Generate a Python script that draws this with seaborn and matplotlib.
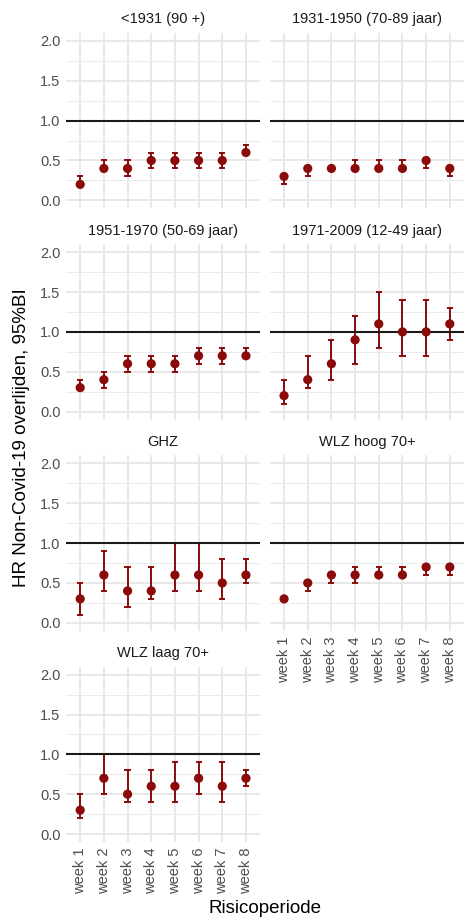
import numpy as np
import pandas as pd
import seaborn as sns
import matplotlib
matplotlib.use("Agg")
import matplotlib.pyplot as plt
from matplotlib.ticker import MultipleLocator

# ---- data ----
weeks = ["week 1", "week 2", "week 3", "week 4", "week 5", "week 6", "week 7", "week 8"]
panels = ["<1931 (90 +)", "1931-1950 (70-89 jaar)", "1951-1970 (50-69 jaar)",
          "1971-2009 (12-49 jaar)", "GHZ", "WLZ hoog 70+", "WLZ laag 70+"]

hr_lt1931 = [0.2, 0.4, 0.4, 0.5, 0.5, 0.5, 0.5, 0.6]
lo_lt1931 = [0.2, 0.4, 0.3, 0.4, 0.4, 0.4, 0.4, 0.6]
hi_lt1931 = [0.3, 0.5, 0.5, 0.6, 0.6, 0.6, 0.6, 0.7]

hr_1931 = [0.3, 0.4, 0.4, 0.4, 0.4, 0.4, 0.5, 0.4]
lo_1931 = [0.2, 0.3, 0.4, 0.4, 0.4, 0.4, 0.4, 0.3]
hi_1931 = [0.3, 0.43, 0.4, 0.5, 0.5, 0.5, 0.5, 0.4]

hr_1951 = [0.3, 0.4, 0.6, 0.6, 0.6, 0.7, 0.7, 0.7]
lo_1951 = [0.3, 0.3, 0.5, 0.5, 0.5, 0.6, 0.6, 0.7]
hi_1951 = [0.4, 0.5, 0.7, 0.7, 0.7, 0.8, 0.8, 0.8]

hr_1971 = [0.2, 0.4, 0.6, 0.9, 1.1, 1.0, 1.0, 1.1]
lo_1971 = [0.1, 0.3, 0.4, 0.6, 0.8, 0.7, 0.7, 0.9]
hi_1971 = [0.4, 0.7, 0.9, 1.2, 1.5, 1.4, 1.4, 1.3]

hr_ghz = [0.3, 0.6, 0.4, 0.4, 0.6, 0.6, 0.5, 0.6]
lo_ghz = [0.1, 0.4, 0.2, 0.3, 0.4, 0.4, 0.3, 0.5]
hi_ghz = [0.5, 0.9, 0.7, 0.7, 1.0, 1.0, 0.8, 0.8]

hr_wlzh = [0.3, 0.5, 0.6, 0.6, 0.6, 0.6, 0.7, 0.7]
lo_wlzh = [0.3, 0.4, 0.5, 0.5, 0.6, 0.6, 0.6, 0.6]
hi_wlzh = [0.3, 0.5, 0.6, 0.7, 0.7, 0.7, 0.7, 0.7]

hr_wlzl = [0.3, 0.7, 0.5, 0.6, 0.6, 0.7, 0.6, 0.7]
lo_wlzl = [0.2, 0.5, 0.4, 0.4, 0.4, 0.5, 0.4, 0.6]
hi_wlzl = [0.5, 1.0, 0.8, 0.8, 0.9, 0.9, 0.9, 0.8]

series = [(hr_lt1931, lo_lt1931, hi_lt1931), (hr_1931, lo_1931, hi_1931),
          (hr_1951, lo_1951, hi_1951), (hr_1971, lo_1971, hi_1971),
          (hr_ghz, lo_ghz, hi_ghz), (hr_wlzh, lo_wlzh, hi_wlzh),
          (hr_wlzl, lo_wlzl, hi_wlzl)]

rows = []
for p, (hr, lo, hi) in zip(panels, series):
    for i, w in enumerate(weeks):
        rows.append({"panel": p, "week": w, "pos": i, "hr": hr[i], "lo": lo[i], "hi": hi[i]})
df = pd.DataFrame(rows)

# ---- style ----
sns.set_theme(style="whitegrid")
plt.rcParams["font.family"] = ["Liberation Sans", "DejaVu Sans"]

RED = "#8B0A0A"

W, H = 465, 922
g = sns.FacetGrid(df, col="panel", col_wrap=2, col_order=panels, sharex=True, sharey=True,
                  height=2, aspect=1, despine=False)
g.figure.set_size_inches(W / 100, H / 100)
g.figure.set_dpi(100)


def draw(data, **kw):
    ax = plt.gca()
    ax.axhline(1.0, color="#1a1a1a", lw=1.5, zorder=4)
    ax.vlines(data["pos"], data["lo"], data["hi"], color=RED, lw=1.4, zorder=3)
    for x, l, h in zip(data["pos"], data["lo"], data["hi"]):
        ax.hlines([l, h], x - 0.13, x + 0.13, color=RED, lw=1.4, zorder=3)
    sns.scatterplot(data=data, x="pos", y="hr", ax=ax, color=RED, s=44,
                    edgecolor="none", zorder=5, legend=False)


g.map_dataframe(draw)
g.set_titles("{col_name}", size=10.5, color="#1a1a1a", pad=7)
g.set_axis_labels("", "")

for ax in g.axes.flat:
    ax.set_xlim(-0.6, 7.6)
    ax.set_ylim(-0.1, 2.1)
    ax.set_xticks(range(len(weeks)))
    ax.yaxis.set_major_locator(MultipleLocator(0.5))
    ax.yaxis.set_minor_locator(MultipleLocator(0.25))
    ax.set_facecolor("white")
    for s in ax.spines.values():
        s.set_visible(False)
    ax.grid(which="major", color="#E6E6E6", lw=1.3)
    ax.grid(which="minor", axis="y", color="#EBEBEB", lw=0.7)
    ax.tick_params(which="both", length=0, pad=4, labelsize=10.5, labelcolor="#4D4D4D")
    ax.yaxis.set_major_formatter(matplotlib.ticker.FormatStrFormatter("%.1f"))
    ax.set_axisbelow(True)

for i, ax in enumerate(g.axes.flat):
    if i in (5, 6):
        ax.set_xticklabels(weeks, rotation=90, ha="center", va="top")
        ax.tick_params(axis="x", labelbottom=True)
    else:
        ax.tick_params(axis="x", labelbottom=False)
    if i % 2 == 0:
        ax.tick_params(axis="y", labelleft=True)
    else:
        ax.tick_params(axis="y", labelleft=False)

left, right = 66 / W, 464 / W
top, bottom = 1 - 33 / H, 1 - 842 / H
g.figure.subplots_adjust(left=left, right=right, top=top, bottom=bottom,
                         wspace=0.05, hspace=0.205)

g.figure.text(22 / W, 1 - 438 / H, "HR Non-Covid-19 overlijden, 95%BI",
              rotation=90, ha="center", va="center", fontsize=13.5, color="black")
g.figure.text(265 / W, 1 - 908 / H, "Risicoperiode", ha="center", va="center",
              fontsize=13.5, color="black")

g.figure.savefig("out.png", dpi=100, facecolor="white")
